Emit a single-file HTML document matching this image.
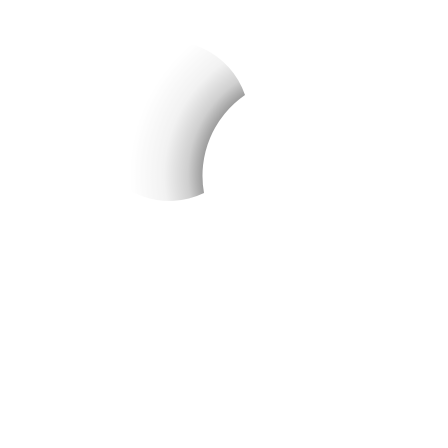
<!DOCTYPE html>
<html><head><meta charset="utf-8"><style>
html,body{margin:0;padding:0;background:#fff;width:448px;height:448px;overflow:hidden}
</style></head><body>
<svg width="448" height="448">
<defs>
<radialGradient id="g" gradientUnits="userSpaceOnUse" cx="300" cy="175" r="170">
<stop offset="0.57" stop-color="#9c9c9c"/>
<stop offset="0.66" stop-color="#cfcfcf"/>
<stop offset="0.8" stop-color="#f2f2f2"/>
<stop offset="1" stop-color="#ffffff"/>
</radialGradient>
</defs>
<path d="M245,95 A80,80 0 1 0 204,193 A98,98 0 0 1 245,95 Z" fill="url(#g)"/>
</svg>
</body></html>
